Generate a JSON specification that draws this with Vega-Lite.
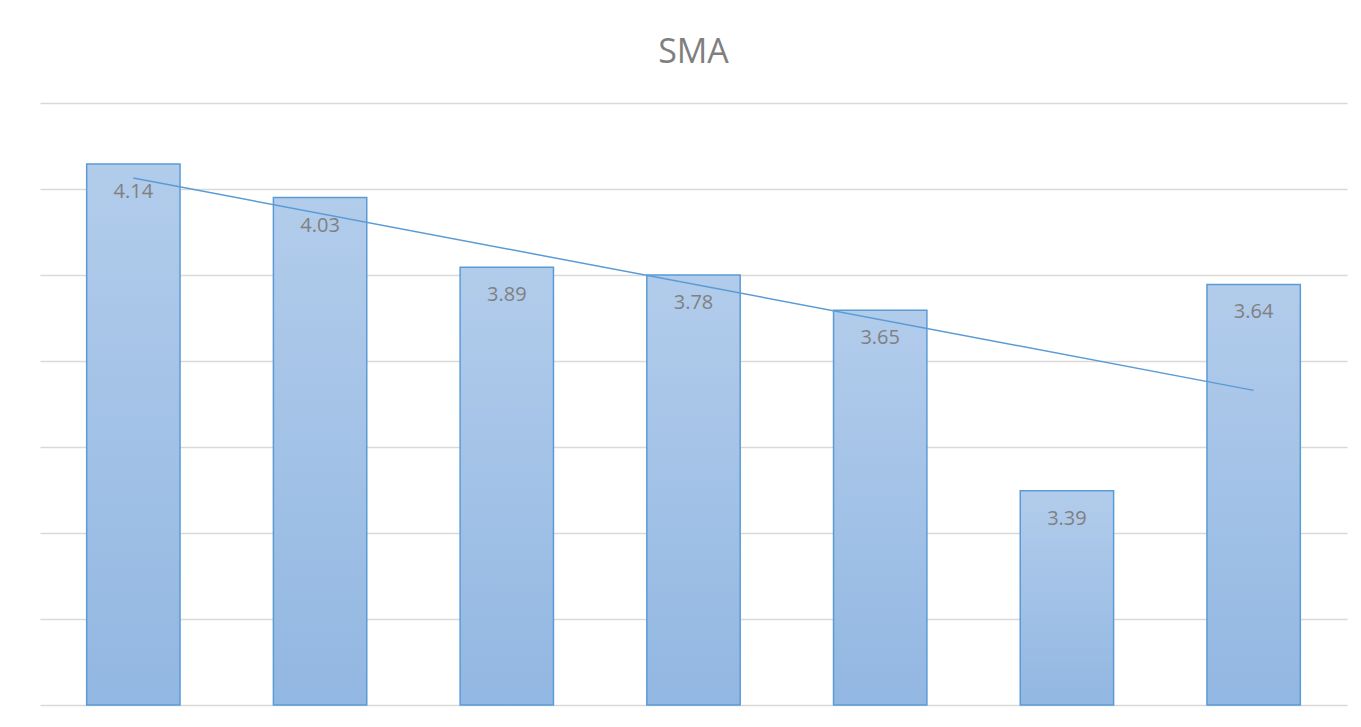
{
  "$schema": "https://vega.github.io/schema/vega-lite/v6.json",
  "width": 1307,
  "height": 602,
  "autosize": {"type": "none"},
  "padding": {"left": 40, "top": 103, "right": 14, "bottom": 22},
  "background": "white",
  "config": {"view": {"stroke": null}, "font": "Open Sans"},
  "title": {
    "text": "SMA",
    "fontSize": 34,
    "font": "Open Sans",
    "fontWeight": "normal",
    "color": "#7f7f7f",
    "anchor": "middle",
    "baseline": "alphabetic",
    "offset": 6
  },
  "data": {
    "values": [
      {"cat": "1", "idx": 1, "value": 6.29, "label": "4.14"},
      {"cat": "2", "idx": 2, "value": 5.9, "label": "4.03"},
      {"cat": "3", "idx": 3, "value": 5.09, "label": "3.89"},
      {"cat": "4", "idx": 4, "value": 5.0, "label": "3.78"},
      {"cat": "5", "idx": 5, "value": 4.59, "label": "3.65"},
      {"cat": "6", "idx": 6, "value": 2.49, "label": "3.39"},
      {"cat": "7", "idx": 7, "value": 4.89, "label": "3.64"}
    ]
  },
  "layer": [
    {
      "mark": {
        "type": "bar",
        "stroke": "#5b9bd5",
        "strokeWidth": 1.5,
        "fill": {
          "gradient": "linear",
          "x1": 0, "y1": 0, "x2": 0, "y2": 1,
          "stops": [
            {"offset": 0, "color": "#b2cceb"},
            {"offset": 1, "color": "#92b7e2"}
          ]
        }
      },
      "encoding": {
        "x": {
          "field": "cat",
          "type": "nominal",
          "sort": null,
          "scale": {"paddingInner": 0.5, "paddingOuter": 0.25},
          "axis": null
        },
        "y": {
          "field": "value",
          "type": "quantitative",
          "scale": {"domain": [0, 7], "nice": false},
          "axis": {
            "title": null,
            "labels": false,
            "ticks": false,
            "domain": false,
            "grid": true,
            "gridColor": "#d9d9d9",
            "gridWidth": 1.5,
            "values": [0, 1, 2, 3, 4, 5, 6, 7]
          }
        }
      }
    },
    {
      "mark": {
        "type": "text",
        "dy": 28,
        "baseline": "middle",
        "align": "center",
        "fontSize": 20,
        "font": "Open Sans",
        "color": "#808080"
      },
      "encoding": {
        "x": {"field": "cat", "type": "nominal", "sort": null, "axis": null},
        "y": {"field": "value", "type": "quantitative"},
        "text": {"field": "label"}
      }
    },
    {
      "transform": [{"regression": "value", "on": "idx"}],
      "mark": {"type": "line", "color": "#5b9bd5", "strokeWidth": 1.5},
      "encoding": {
        "x": {
          "field": "idx",
          "type": "quantitative",
          "scale": {"domain": [0.5, 7.5], "nice": false, "zero": false},
          "axis": null
        },
        "y": {"field": "value", "type": "quantitative"}
      }
    }
  ],
  "resolve": {"scale": {"x": "independent"}}
}
